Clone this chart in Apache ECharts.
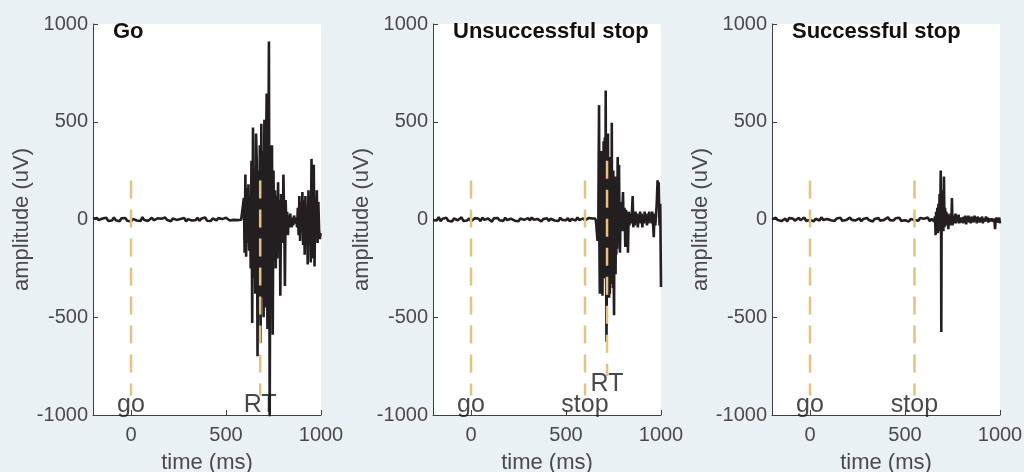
<!DOCTYPE html>
<html><head><meta charset="utf-8">
<script src="https://cdn.jsdelivr.net/npm/echarts@6/dist/echarts.min.js"></script>
<style>html,body{margin:0;padding:0;background:#e9f1f4}#c{width:1024px;height:472px}</style>
</head><body><div id="c"></div><script>
// ---- data (times in ms, amplitudes in uV) ----
const panelTitles = ['Go', 'Unsuccessful stop', 'Successful stop'];
const xTicks = [0, 500, 1000];
const baseStart = -200, baseStep = 10;

// baseline noise samples (every 10 ms from -200 ms)
const goBase = [4,-6,8,-3,-12,5,-2,9,-7,3,-5,10,-4,2,-9,6,-1,8,-6,4,-10,3,7,-5,1,-8,12,-3,5,-7,2,9,-4,-11,6,-2,4,-6,10,-3,1,-9,5,7,-2,-6,3,-4,8,-10,2,6,-5,1,-3,9,-7,4,-2,11,-6,3,-8,5,0,-4,7,-3,2,-6,9,-1,-5,4,-2,6,-3,2,-1];
const unsBase = [-3,7,-5,12,-8,4,-1,9,-6,2,-10,5,8,-4,-2,11,-7,3,-5,6,-9,1,7,-3,4,-8,10,-2,-6,5,3,-11,6,-1,8,-4,2,-7,9,-3,-5,4,12,-6,1,-9,5,3,-2,-8,7,-4,10,-1,-6,3,8,-10,2,-3,6,-7,4,11,-5,0,-8,9,-2,5,-4,7,-9,3,1,-6,10,-3,-1,6,-5,2,8,15,5];
const sucBase = [2,-5,9,-3,6,-8,1,4,-10,7,-2,5,-6,3,8,-4,-1,10,-7,2,-3,6,-9,4,1,-5,11,-2,-6,3,7,-4,2,-8,5,-1,9,-6,3,-3,-7,10,-2,4,-5,1,6,-9,2,-4,8,-3,5,-10,3,-1,7,-6,4,-2,-8,11,-3,2,-5,6,-1,9,-7,3,-4,5,-10,2,7,-3,1,-6,8,-2,4,-5,10,-8,3];

// EMG bursts as [time, amplitude]
const goBurst = [[590,0],[594,110],[598,-170],[602,230],[606,-190],[610,160],[614,-120],[618,180],[622,-160],[626,120],[630,-250],[634,300],[638,-530],[642,470],[646,-300],[650,260],[654,-380],[658,440],[662,300],[666,-700],[670,250],[674,-450],[678,380],[682,-630],[686,490],[690,-400],[694,350],[698,-500],[702,510],[706,-450],[710,300],[714,645],[718,-560],[722,200],[726,910],[730,-1050],[734,380],[738,-300],[742,380],[746,-590],[750,250],[754,-200],[758,150],[762,-250],[766,120],[770,-200],[774,190],[778,-150],[782,100],[786,-390],[790,130],[794,60],[798,-120],[802,230],[806,40],[810,-340],[814,100],[818,-50],[822,40],[826,-80],[830,20],[834,-40],[838,30],[842,-20],[846,-40],[850,10],[854,-30],[858,20],[862,30],[866,-20],[870,10],[874,-40],[878,60],[882,-80],[886,120],[890,-110],[894,90],[898,-60],[902,140],[906,-130],[910,100],[914,-180],[918,120],[922,-120],[926,70],[930,-230],[934,150],[938,-60],[942,120],[946,-220],[950,310],[954,60],[958,-200],[962,280],[966,-240],[970,100],[974,-60],[978,150],[982,-120],[986,90],[990,-50],[994,-100],[998,-70]];
const unsBurst = [[650,0],[654,5],[658,-10],[662,-60],[666,-110],[670,-60],[672,300],[674,585],[676,-150],[678,-380],[680,200],[682,-260],[684,300],[686,-330],[688,350],[690,-200],[692,-390],[694,280],[696,-300],[698,400],[700,-300],[702,250],[704,420],[706,-200],[708,300],[709,660],[711,-250],[713,-625],[715,-300],[717,300],[719,-350],[721,440],[723,-300],[725,250],[727,-400],[729,320],[731,-380],[733,250],[735,-330],[737,300],[739,-250],[741,495],[743,-300],[745,200],[747,-350],[749,250],[751,-300],[753,-490],[755,160],[757,-250],[759,200],[761,-280],[763,220],[765,-180],[767,200],[769,-150],[772,320],[776,-120],[779,280],[782,-80],[784,-170],[788,90],[792,-60],[796,40],[800,140],[804,-60],[808,60],[812,-140],[816,50],[820,-40],[824,30],[826,-170],[830,40],[834,-30],[838,30],[842,-20],[846,20],[851,120],[854,-40],[858,20],[862,-30],[866,40],[870,-20],[874,30],[878,-40],[882,20],[886,-10],[890,40],[894,-20],[898,30],[902,-40],[906,20],[910,-20],[914,40],[918,-10],[922,20],[926,-30],[930,30],[934,-20],[938,40],[942,-10],[946,30],[950,-20],[954,40],[958,-20],[962,-90],[966,30],[970,-30],[974,20],[978,90],[982,200],[985,100],[988,190],[992,-30],[996,80],[1000,-345]];
const sucBurst = [[650,0],[654,-10],[658,15],[661,-80],[664,40],[667,-60],[670,60],[673,-70],[676,80],[679,-50],[682,130],[685,-60],[688,250],[690,-80],[691,-575],[693,100],[696,-40],[699,150],[702,-60],[705,220],[708,-40],[711,60],[714,-30],[717,40],[720,-20],[724,30],[728,-50],[732,20],[736,-30],[740,30],[744,-20],[747,110],[750,-30],[754,20],[758,-20],[762,10],[766,30],[770,-20],[774,20],[778,-10],[782,25],[786,-20],[790,10],[794,20],[798,-15],[802,10],[806,-20],[810,15],[814,-10],[818,20],[822,-25],[826,10],[830,-5],[834,20],[838,-15],[842,10],[846,-20],[850,15],[854,-10],[858,10],[862,-15],[866,20],[870,-5],[874,10],[878,-20],[882,15],[886,-10],[890,5],[894,-15],[898,10],[902,-10],[906,15],[910,-20],[914,5],[918,10],[922,-10],[926,15],[930,-5],[934,10],[938,-15],[942,5],[946,10],[950,-10],[954,5],[958,-5],[962,10],[966,-10],[970,5],[974,-50],[976,-20],[980,10],[984,20],[988,10],[992,-15],[996,10],[1000,-20]];

// event markers: [time, top, bottom]
const goEvents = [[0,200,-900],[680,200,-900]];
const unsEvents = [[0,200,-900],[600,200,-900],[716,300,-800]];
const sucEvents = [[0,200,-900],[550,200,-900]];
// event labels: [time, amplitude, text]
const goLabels = [[0,-950,'go'],[680,-950,'RT']];
const unsLabels = [[0,-950,'go'],[600,-950,'stop'],[716,-840,'RT']];
const sucLabels = [[0,-950,'go'],[550,-950,'stop']];

// ---- build ----
function trace(base, burst) {
  const start = burst[0][0];
  const out = [];
  base.forEach((v, i) => { const t = baseStart + baseStep * i; if (t < start) out.push([t, v]); });
  return out.concat(burst);
}
const panels = [
  {data: trace(goBase, goBurst), ev: goEvents, lab: goLabels},
  {data: trace(unsBase, unsBurst), ev: unsEvents, lab: unsLabels},
  {data: trace(sucBase, sucBurst), ev: sucEvents, lab: sucLabels}
];
const lefts = [93, 433, 772];
const FONT = 'Liberation Sans, Arial, Helvetica, sans-serif';
const axisCol = '#404040', labCol = '#4a4a4a';
const plain = v => String(v);

const option = {
  backgroundColor: '#e9f1f4',
  animation: false,
  textStyle: {fontFamily: FONT},
  title: panelTitles.map((t, i) => ({text: t, left: lefts[i] + 20, top: 21, padding: 0,
    textStyle: {fontSize: 22, fontWeight: 'bold', color: '#111', fontFamily: FONT}})),
  grid: lefts.map(l => ({left: l, top: 24, width: 228, height: 391, show: true, backgroundColor: '#ffffff', borderWidth: 0,
    containLabel: false, outerBoundsMode: 'none'})),
  xAxis: lefts.map((l, i) => ({
    type: 'value', gridIndex: i, min: -200, max: 1000,
    axisLine: {show: true, onZero: false, lineStyle: {color: axisCol, width: 1}},
    axisTick: {show: true, inside: true, length: 5, customValues: xTicks, lineStyle: {color: axisCol}},
    axisLabel: {customValues: xTicks, formatter: plain, color: labCol, fontSize: 20, margin: 10, fontFamily: FONT},
    splitLine: {show: false},
    name: 'time (ms)', nameLocation: 'middle', nameGap: 37,
    nameTextStyle: {fontSize: 22, color: labCol, fontFamily: FONT}
  })),
  yAxis: lefts.map((l, i) => ({
    type: 'value', gridIndex: i, min: -1000, max: 1000, interval: 500,
    axisLine: {show: true, onZero: false, lineStyle: {color: axisCol, width: 1}},
    axisTick: {show: true, inside: true, length: 5, lineStyle: {color: axisCol}},
    axisLabel: {formatter: plain, color: labCol, fontSize: 20, margin: 5, fontFamily: FONT, showMinLabel: true, showMaxLabel: true},
    splitLine: {show: false},
    name: 'amplitude (uV)', nameLocation: 'middle', nameGap: 60, nameRotate: 90,
    nameTextStyle: {fontSize: 22, color: labCol, fontFamily: FONT}
  })),
  series: []
};
panels.forEach((p, i) => {
  option.series.push({
    type: 'line', xAxisIndex: i, yAxisIndex: i, data: p.data, showSymbol: false, symbol: 'none',
    clip: true, z: 2, lineStyle: {color: '#231f20', width: 2.6, join: 'bevel'}
  });
  p.ev.forEach(e => option.series.push({
    type: 'line', xAxisIndex: i, yAxisIndex: i, data: [[e[0], e[1]], [e[0], e[2]]], showSymbol: false, symbol: 'none',
    z: 3, lineStyle: {color: '#e6c27a', width: 2.5, type: [18, 11]}
  }));
  option.series.push({
    type: 'scatter', xAxisIndex: i, yAxisIndex: i, data: p.lab, symbolSize: 1, z: 4,
    itemStyle: {color: 'rgba(0,0,0,0)'},
    label: {show: true, position: 'inside', formatter: q => q.data[2], fontSize: 25, color: '#1a1a1a', fontFamily: FONT}
  });
});
const chart = echarts.init(document.getElementById('c'), null, {renderer: 'canvas'});
chart.setOption(option);
</script></body></html>
